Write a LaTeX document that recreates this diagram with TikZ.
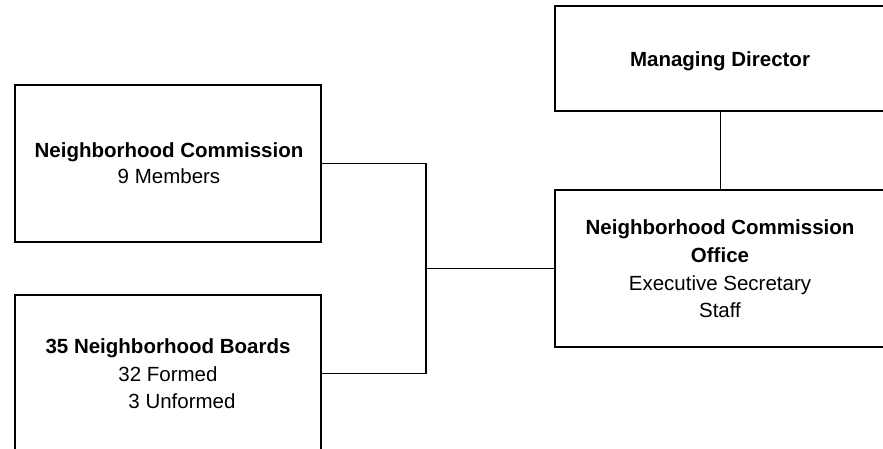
\documentclass[tikz,border=0pt]{standalone}
\usepackage{fontspec}
\setmainfont{Liberation Sans}
\begin{document}
\begin{tikzpicture}[x=1pt,y=-1pt,
  box/.style={draw=black,line width=1.9pt,fill=white,rectangle,inner sep=0pt},
  conn/.style={draw=black,line width=1.9pt},
  txt/.style={anchor=base,inner sep=0pt,font=\fontsize{20.5}{27}\selectfont},
  btxt/.style={txt,font=\fontsize{20.5}{27}\selectfont\bfseries}]
\useasboundingbox (0,0) rectangle (883,448);
\clip (0,0) rectangle (883,448);
\fill[white] (0,0) rectangle (883,448);
% boxes
\node[box,minimum width=331pt,minimum height=105pt] (md) at (720.5,58.5) {};
\node[box,minimum width=331pt,minimum height=157pt] (nco) at (720.5,268.5) {};
\node[box,minimum width=306pt,minimum height=157pt] (nc) at (168,163.5) {};
\node[box,minimum width=306pt,minimum height=157pt] (nb) at (168,373.5) {};
\coordinate (j) at (426,268.5);
% connectors
\draw[conn] (md.south) -- (nco.north);
\draw[conn] (nc.east) -| (j);
\draw[conn] (nb.east) -| (j);
\draw[conn] (j) -- (nco.west);
% texts
\node[btxt] (mdt) at (720,66) {Managing Director};
\node[btxt] (nct1) at (169,157) {Neighborhood Commission};
\node[txt] (nct2) at (169,183.5) {9 Members};
\node[btxt] (ncot1) at (720,234) {Neighborhood Commission};
\node[btxt] (ncot2) at (720,262) {Office};
\node[txt] (ncot3) at (720,290) {Executive Secretary};
\node[txt] (ncot4) at (720,317) {Staff};
\node[btxt] (nbt1) at (168,353) {35 Neighborhood Boards};
\node[txt] (nbt2) at (168,381) {32 Formed};
\node[txt] (nbt3) at (182,408) {3 Unformed};
\end{tikzpicture}
\end{document}
